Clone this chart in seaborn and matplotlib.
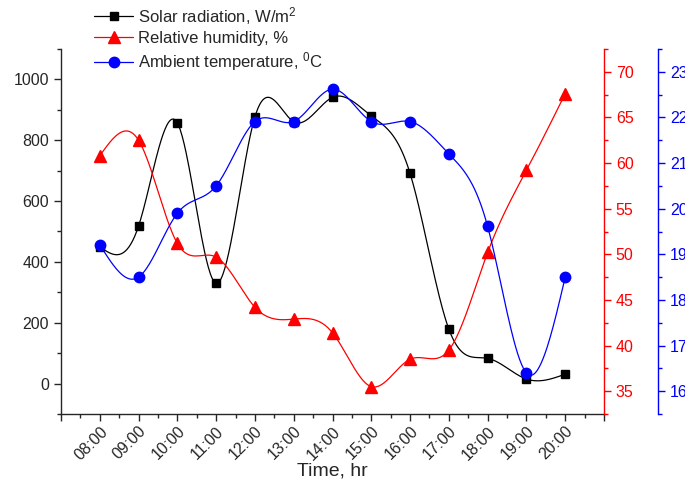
import numpy as np
import matplotlib
matplotlib.use("Agg")
import matplotlib.pyplot as plt
from matplotlib.ticker import MultipleLocator, FixedLocator
from matplotlib.lines import Line2D
import seaborn as sns

# ---- data ----
hours = [8, 9, 10, 11, 12, 13, 14, 15, 16, 17, 18, 19, 20]
time_labels = ["08:00", "09:00", "10:00", "11:00", "12:00", "13:00", "14:00",
               "15:00", "16:00", "17:00", "18:00", "19:00", "20:00"]
solar = [450, 518, 857, 330, 877, 861, 941, 880, 691, 179, 83, 15, 31]
humidity = [60.8, 62.5, 51.2, 49.7, 44.2, 42.9, 41.4, 35.5, 38.5, 39.5, 50.2, 59.2, 67.6]
temperature = [19.21, 18.50, 19.90, 20.50, 21.91, 21.91, 22.62, 21.91, 21.91, 21.20, 19.61, 16.40, 18.50]

series_names = ["Solar radiation, W/m$^2$", "Relative humidity, %", "Ambient temperature, $^0$C"]


def natural_spline(x, y, n_per=40):
    x = np.asarray(x, float)
    y = np.asarray(y, float)
    n = len(x)
    h = np.diff(x)
    A = np.zeros((n, n))
    b = np.zeros(n)
    A[0, 0] = 1
    A[-1, -1] = 1
    for i in range(1, n - 1):
        A[i, i - 1] = h[i - 1]
        A[i, i] = 2 * (h[i - 1] + h[i])
        A[i, i + 1] = h[i]
        b[i] = 6 * ((y[i + 1] - y[i]) / h[i] - (y[i] - y[i - 1]) / h[i - 1])
    M = np.linalg.solve(A, b)
    xs_all, ys_all = [], []
    for i in range(n - 1):
        t = np.linspace(x[i], x[i + 1], n_per, endpoint=(i == n - 2))
        a = x[i + 1] - t
        c = t - x[i]
        s = (M[i] * a ** 3 / (6 * h[i]) + M[i + 1] * c ** 3 / (6 * h[i])
             + (y[i] / h[i] - M[i] * h[i] / 6) * a
             + (y[i + 1] / h[i] - M[i + 1] * h[i] / 6) * c)
        xs_all.append(t)
        ys_all.append(s)
    return np.concatenate(xs_all), np.concatenate(ys_all)


sns.set_style("ticks")
plt.rcParams["font.family"] = ["Liberation Sans", "DejaVu Sans"]
plt.rcParams["mathtext.fontset"] = "custom"
plt.rcParams["mathtext.rm"] = "Liberation Sans"
plt.rcParams["mathtext.it"] = "Liberation Sans"

fig = plt.figure(figsize=(6.85, 4.91), dpi=100)
ax = fig.add_axes([61 / 685, 1 - 414 / 491, 543 / 685, 365 / 491])
ax2 = ax.twinx()
ax3 = ax.twinx()

RED = (1, 0, 0)
BLUE = (0, 0, 1)
BLACK = (0, 0, 0)
lw = 0.9

# Solar
xs, ys = natural_spline(hours, solar)
sns.lineplot(x=xs, y=ys, ax=ax, color=BLACK, lw=lw, sort=False, estimator=None)
ax.plot(hours, solar, ls="none", marker="s", ms=6, color=BLACK, zorder=3)

# Humidity
xs, ys = natural_spline(hours, humidity)
sns.lineplot(x=xs, y=ys, ax=ax2, color=RED, lw=lw, sort=False, estimator=None)
ax2.plot(hours, humidity, ls="none", marker="^", ms=8, color=RED, zorder=3)

# Temperature
xs, ys = natural_spline(hours, temperature)
sns.lineplot(x=xs, y=ys, ax=ax3, color=BLUE, lw=lw, sort=False, estimator=None)
ax3.plot(hours, temperature, ls="none", marker="o", ms=7.5, color=BLUE, zorder=3)

# axes limits
ax.set_xlim(7, 21)
ax.set_ylim(-100, 1100)
ax2.set_ylim(32.5, 72.5)
ax3.set_ylim(15.5, 23.5)

# x ticks
ax.xaxis.set_major_locator(FixedLocator(list(range(7, 22))))
ax.set_xticklabels([""] + time_labels + [""], rotation=45, ha="right",
                   rotation_mode="anchor", fontsize=11.5)
ax.xaxis.set_minor_locator(MultipleLocator(0.5))
ax.set_xlabel("Time, hr", fontsize=14, labelpad=0)

# left axis
ax.yaxis.set_major_locator(FixedLocator([0, 200, 400, 600, 800, 1000]))
ax.yaxis.set_minor_locator(MultipleLocator(100))
ax.tick_params(axis="y", labelsize=11.5)

# red axis
ax2.yaxis.set_major_locator(MultipleLocator(5))
ax2.yaxis.set_minor_locator(MultipleLocator(2.5))
ax2.tick_params(axis="y", which="both", colors=RED, labelsize=11.5)
ax2.spines["right"].set_color(RED)

# blue axis
ax3.spines["right"].set_position(("axes", 54 / 543 + 1))
ax3.yaxis.set_major_locator(MultipleLocator(1))
ax3.yaxis.set_minor_locator(MultipleLocator(0.5))
ax3.tick_params(axis="y", which="both", colors=BLUE, labelsize=11.5)
ax3.spines["right"].set_color(BLUE)

for a in (ax, ax2, ax3):
    a.spines["top"].set_visible(False)
    a.set_ylabel("")
    a.tick_params(which="major", length=5, width=1, direction="out")
    a.tick_params(which="minor", length=3, width=1, direction="out")
for a in (ax2, ax3):
    a.spines["left"].set_visible(False)
    a.spines["bottom"].set_visible(False)
for s in ("left", "bottom"):
    ax.spines[s].set_linewidth(1)
ax.spines["right"].set_visible(False)
ax2.spines["right"].set_linewidth(1)
ax3.spines["right"].set_linewidth(1)
ax.tick_params(axis="x", which="both", pad=2)

handles = [
    Line2D([], [], color=BLACK, lw=lw, marker="s", ms=6),
    Line2D([], [], color=RED, lw=lw, marker="^", ms=8),
    Line2D([], [], color=BLUE, lw=lw, marker="o", ms=7.5),
]
leg = fig.legend(handles, series_names, loc="upper left",
                 bbox_to_anchor=(94 / 685, 1 - 5 / 491), frameon=False,
                 fontsize=12, handlelength=2.35, handletextpad=0.3,
                 labelspacing=0.25, borderpad=0, borderaxespad=0)

fig.savefig("out.png", dpi=100)
